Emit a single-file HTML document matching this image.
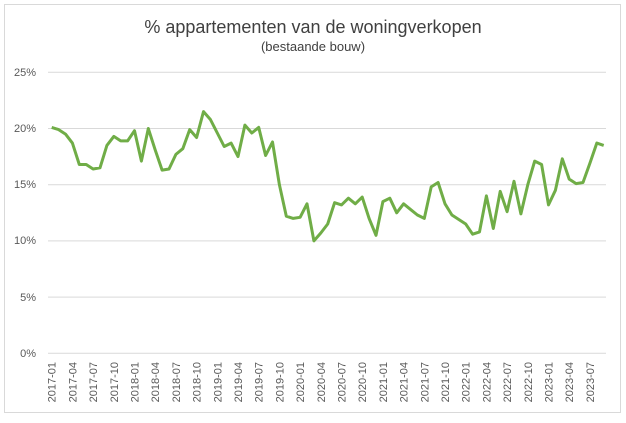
<!DOCTYPE html>
<html><head><meta charset="utf-8"><style>body{margin:0;background:#fff}</style></head><body>
<svg width="626" height="418" xmlns="http://www.w3.org/2000/svg" font-family="Liberation Sans, sans-serif">
<rect x="4.5" y="4.5" width="616" height="408" fill="#fff" stroke="#d9d9d9"/>
<text x="313" y="33" text-anchor="middle" font-size="18" fill="#404040">% appartementen van de woningverkopen</text>
<text x="313" y="51" text-anchor="middle" font-size="13" fill="#404040">(bestaande bouw)</text>
<g stroke="#d9d9d9" stroke-width="1">
<line x1="48" x2="606" y1="72.3" y2="72.3"/><line x1="48" x2="606" y1="128.5" y2="128.5"/><line x1="48" x2="606" y1="184.7" y2="184.7"/><line x1="48" x2="606" y1="240.9" y2="240.9"/><line x1="48" x2="606" y1="297.1" y2="297.1"/><line x1="48" x2="606" y1="353.3" y2="353.3"/>
</g>
<g font-size="11" fill="#595959" text-anchor="end">
<text x="36" y="76">25%</text><text x="36" y="132">20%</text><text x="36" y="188">15%</text><text x="36" y="244">10%</text><text x="36" y="301">5%</text><text x="36" y="357">0%</text>
</g>
<g font-size="11" fill="#595959" text-anchor="end">
<text transform="translate(55.7,362) rotate(-90)">2017-01</text>
<text transform="translate(76.4,362) rotate(-90)">2017-04</text>
<text transform="translate(97.1,362) rotate(-90)">2017-07</text>
<text transform="translate(117.8,362) rotate(-90)">2017-10</text>
<text transform="translate(138.5,362) rotate(-90)">2018-01</text>
<text transform="translate(159.2,362) rotate(-90)">2018-04</text>
<text transform="translate(179.9,362) rotate(-90)">2018-07</text>
<text transform="translate(200.6,362) rotate(-90)">2018-10</text>
<text transform="translate(221.3,362) rotate(-90)">2019-01</text>
<text transform="translate(242.0,362) rotate(-90)">2019-04</text>
<text transform="translate(262.7,362) rotate(-90)">2019-07</text>
<text transform="translate(283.4,362) rotate(-90)">2019-10</text>
<text transform="translate(304.1,362) rotate(-90)">2020-01</text>
<text transform="translate(324.8,362) rotate(-90)">2020-04</text>
<text transform="translate(345.5,362) rotate(-90)">2020-07</text>
<text transform="translate(366.2,362) rotate(-90)">2020-10</text>
<text transform="translate(386.9,362) rotate(-90)">2021-01</text>
<text transform="translate(407.6,362) rotate(-90)">2021-04</text>
<text transform="translate(428.3,362) rotate(-90)">2021-07</text>
<text transform="translate(449.0,362) rotate(-90)">2021-10</text>
<text transform="translate(469.7,362) rotate(-90)">2022-01</text>
<text transform="translate(490.4,362) rotate(-90)">2022-04</text>
<text transform="translate(511.1,362) rotate(-90)">2022-07</text>
<text transform="translate(531.8,362) rotate(-90)">2022-10</text>
<text transform="translate(552.5,362) rotate(-90)">2023-01</text>
<text transform="translate(573.2,362) rotate(-90)">2023-04</text>
<text transform="translate(593.9,362) rotate(-90)">2023-07</text>
</g>
<polyline id="ln" fill="none" stroke="#70ad47" stroke-width="3" stroke-linejoin="round"/>
<script>
var v=[20.1,19.9,19.5,18.7,16.8,16.8,16.4,16.5,18.5,19.3,18.9,18.9,19.8,17.1,20.0,18.1,16.3,16.4,17.7,18.2,19.9,19.2,21.5,20.8,19.6,18.4,18.7,17.5,20.3,19.6,20.1,17.6,18.8,15.0,12.2,12.0,12.1,13.3,10.0,10.7,11.5,13.4,13.2,13.8,13.3,13.9,12.0,10.5,13.5,13.8,12.5,13.3,12.8,12.3,12.0,14.8,15.2,13.3,12.3,11.9,11.5,10.6,10.8,14.0,11.1,14.4,12.6,15.3,12.4,15.0,17.1,16.8,13.2,14.5,17.3,15.5,15.1,15.2,16.9,18.7,18.5];
var p=v.map(function(d,i){return (51.7+i*6.9).toFixed(1)+","+(353.3-d*11.24).toFixed(1)}).join(" ");
document.getElementById("ln").setAttribute("points",p);
</script>
</svg>
</body></html>
